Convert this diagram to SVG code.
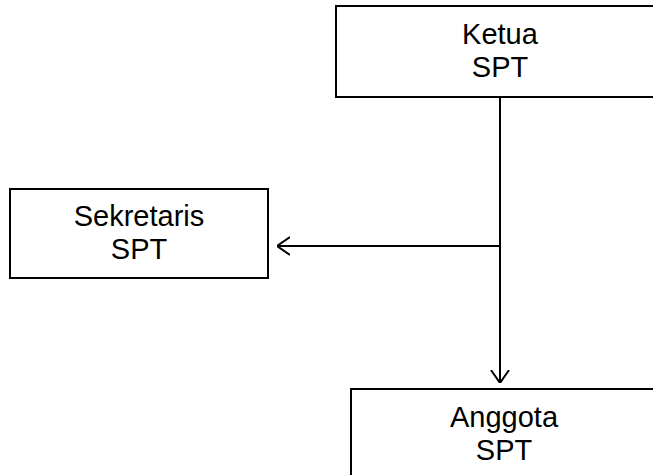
<svg xmlns="http://www.w3.org/2000/svg" width="653" height="475" viewBox="0 0 653 475">
<style>
.box{fill:#fff;stroke:#000;stroke-width:2}
.lbl{font-family:"Liberation Sans",Arial,sans-serif;font-size:29px;fill:#000;text-anchor:middle}
.con{fill:none;stroke:#000;stroke-width:2}
</style>
<defs>
<marker id="arr" viewBox="0 0 13 20" refX="13" refY="10" markerWidth="13" markerHeight="20" markerUnits="userSpaceOnUse" orient="auto">
<path d="M0,1 L13,10 L0,19" fill="none" stroke="#000" stroke-width="2"/>
</marker>
</defs>
<rect width="653" height="475" fill="#fff"/>
<g id="connectors">
<line class="con" x1="500" y1="97" x2="500" y2="383" marker-end="url(#arr)"/>
<line class="con" x1="500" y1="246" x2="277" y2="246" marker-end="url(#arr)"/>
</g>
<g id="ketua">
<rect class="box" x="336" y="6" width="328" height="91"/>
<text class="lbl" x="500" y="44">Ketua</text>
<text class="lbl" x="500" y="77">SPT</text>
</g>
<g id="sekretaris">
<rect class="box" x="10" y="189" width="258" height="89"/>
<text class="lbl" x="139" y="226">Sekretaris</text>
<text class="lbl" x="139" y="259">SPT</text>
</g>
<g id="anggota">
<rect class="box" x="351" y="389" width="310" height="100"/>
<text class="lbl" x="504" y="427">Anggota</text>
<text class="lbl" x="504" y="460">SPT</text>
</g>
</svg>
